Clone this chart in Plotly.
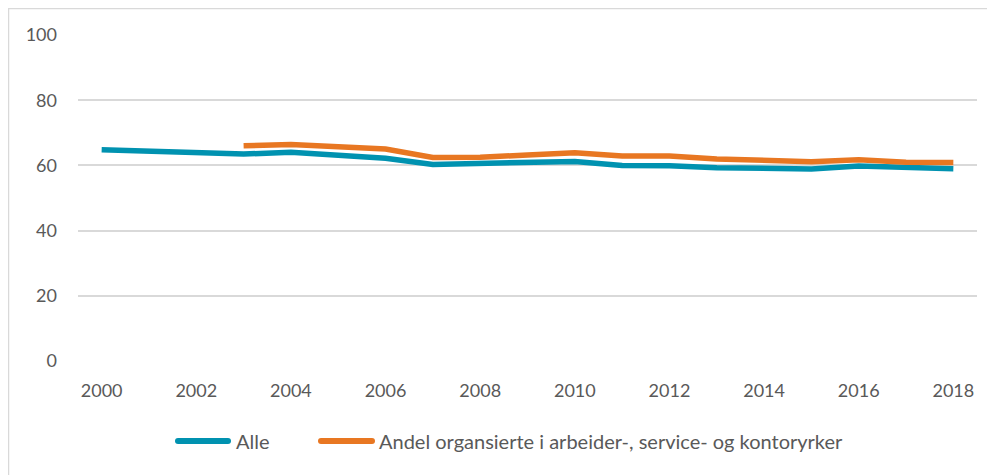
import plotly.graph_objects as go

years = list(range(2000, 2019))
alle = [64.8, 64.3, 63.6, 63.5, 64.0, 63.1, 62.2, 60.3, 60.5, 60.9, 61.2, 60.0, 59.9, 59.3, 59.1, 58.9, 59.8, 59.2, 59.0]
andel_years = list(range(2003, 2019))
andel = [66.0, 66.4, 65.7, 65.0, 62.4, 62.5, 63.2, 63.9, 62.9, 62.9, 62.0, 61.7, 61.1, 61.7, 61.0, 60.9]
series_names = ["Alle", "Andel organsierte i arbeider-, service- og kontoryrker"]
y_ticks = [0, 20, 40, 60, 80, 100]
x_ticks = list(range(2000, 2019, 2))

BLUE = "#0092B0"
ORANGE = "#E87722"
FONT = "Lato"
GREY = "#595959"

fig = go.Figure()
fig.add_trace(go.Scatter(x=years, y=alle, mode="lines", name=series_names[0],
                         line=dict(color=BLUE, width=5.5)))
fig.add_trace(go.Scatter(x=andel_years, y=andel, mode="lines", name=series_names[1],
                         line=dict(color=ORANGE, width=5.5)))

# page has an 8px body offset; margins are in figure coordinates
L, T, R, B = 70, 27, 26, 122
plot_w = 995 - L - R
plot_h = 475 - T - B


def px(xpix):
    return (xpix - L) / plot_w


def py(ypix):
    return (T + plot_h - ypix) / plot_h


# manual legend (pixel positions in figure coordinates)
leg_y = 433
legend_items = [(167, 223, 226, BLUE), (310, 367, 369, ORANGE)]
shapes = [dict(type="rect", xref="paper", yref="paper",
               x0=px(0.5), x1=1.2, y0=-1.0, y1=py(0.5),
               line=dict(color="#D9D9D9", width=1.5), fillcolor="rgba(0,0,0,0)", layer="below")]
annotations = []
for (x0, x1, tx, col), name in zip(legend_items, series_names):
    shapes.append(dict(type="line", xref="paper", yref="paper",
                       x0=px(x0 + 3), x1=px(x1 - 3), y0=py(leg_y), y1=py(leg_y),
                       line=dict(color=col, width=6)))
    shapes.append(dict(type="circle", xref="paper", yref="paper",
                       x0=px(x0), x1=px(x0 + 6), y0=py(leg_y + 3), y1=py(leg_y - 3),
                       line=dict(width=0), fillcolor=col))
    shapes.append(dict(type="circle", xref="paper", yref="paper",
                       x0=px(x1 - 6), x1=px(x1), y0=py(leg_y + 3), y1=py(leg_y - 3),
                       line=dict(width=0), fillcolor=col))
    annotations.append(dict(text=name, xref="paper", yref="paper", x=px(tx), y=py(leg_y),
                            xanchor="left", yanchor="middle", showarrow=False,
                            font=dict(family=FONT, size=20, color=GREY)))

fig.update_layout(
    width=995, height=475,
    margin=dict(l=L, r=R, t=T, b=B),
    paper_bgcolor="white", plot_bgcolor="white",
    font=dict(family=FONT, size=18, color=GREY),
    showlegend=False,
    xaxis=dict(range=[1999.5, 2018.5], tickvals=x_ticks, ticktext=[str(v) for v in x_ticks],
               showgrid=False, zeroline=False, showline=False, ticks="", ticklabelstandoff=17,
               tickfont=dict(family=FONT, size=18, color=GREY)),
    yaxis=dict(range=[0, 100], tickvals=y_ticks, showgrid=True, gridcolor="#D9D9D9",
               gridwidth=1.5, zeroline=False, showline=False, ticks="", ticklabelstandoff=20,
               tickfont=dict(family=FONT, size=18, color=GREY)),
    shapes=shapes,
    annotations=annotations,
)

fig.write_html("out.html")
